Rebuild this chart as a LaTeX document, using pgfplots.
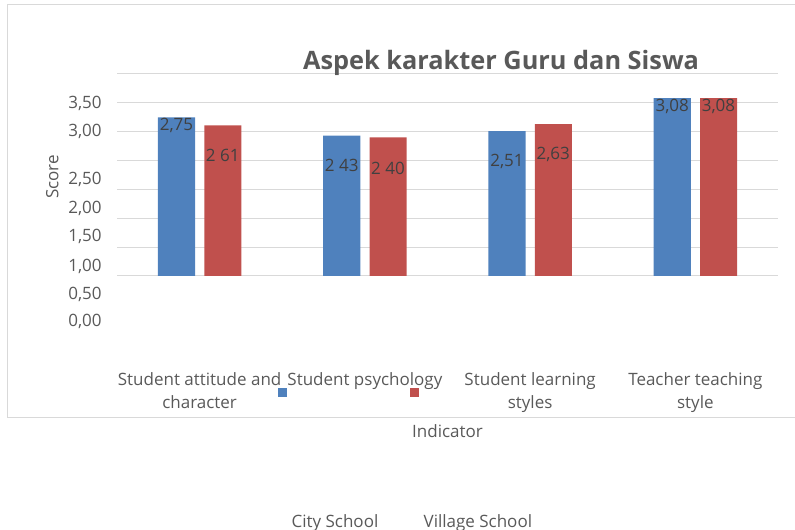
\documentclass[border=0pt]{standalone}
\usepackage{pgfplots}
\pgfplotsset{compat=1.18}
\usepackage{fontspec}
\setmainfont{Open Sans}
\definecolor{cblue}{HTML}{4F81BD}
\definecolor{cred}{HTML}{C0504D}
\definecolor{gridc}{HTML}{D9D9D9}
\definecolor{txt}{HTML}{595959}
\definecolor{lbl}{HTML}{404040}
\newcommand{\fs}{\fontsize{12.75pt}{17.3pt}\selectfont}
\pgfplotsset{mylegend/.style={legend image code/.code={%
  \path[fill=none, draw=none] (0pt,-3pt) rectangle (8pt,3pt);
  \fill[##1, overlay] (0pt,93.5pt) rectangle ++(6.75pt,6.75pt);}}}
\begin{document}
\begin{tikzpicture}
\path[use as bounding box] (0,0) rectangle (596.25pt,397.5pt);
\draw[gridc, line width=0.75pt] (5.25pt,393.75pt) rectangle (620pt,84pt);
\begin{axis}[
  at={(87.75pt,151.6pt)}, anchor=south west,
  scale only axis, width=495.75pt, height=190.4pt,
  xmin=-0.5, xmax=3.5, ymin=-0.9, ymax=3.5,
  axis line style={draw=none},
  major tick length=0pt,
  ytick={0,0.5,...,3.5}, yticklabels={},
  ymajorgrids, grid style={gridc, line width=0.75pt},
  extra y ticks={2.998,2.513,1.664,1.178,0.676,0.173,-0.329,-0.78},
  extra y tick labels={{3,50},{3,00},{2,50},{2,00},{1,50},{1,00},{0,50},{0,00}},
  extra y tick style={grid=none},
  yticklabel style={font=\fs, text=txt, xshift=-8pt},
  xtick={0,1,2,3},
  xticklabels={{Student attitude and\\character},{Student psychology},{Student learning\\styles},{Teacher teaching\\style}},
  xticklabel style={font=\fs, text=txt, align=center, yshift=-30pt},
  title={Aspek karakter Guru dan Siswa},
  title style={font=\fontsize{19pt}{22pt}\selectfont\bfseries, text=txt, at={(axis description cs:0.581,0.988)}, anchor=base, yshift=0pt},
  xlabel={Indicator},
  xlabel style={font=\fs, text=txt, at={(axis description cs:0.5,-0.4336)}, anchor=base},
  ylabel={Score},
  ylabel style={font=\fs, text=txt, at={(axis description cs:-0.098,0.594)}, anchor=center},
  legend style={draw=none, fill=none, font=\fs, text=txt, at={(axis description cs:0.438,-0.765)}, anchor=center,
    /tikz/every even column/.append style={column sep=22pt}},
  legend columns=2,
  legend cell align=left,
]
\addplot[ybar, bar width=0.224, bar shift=-0.14, fill=cblue, draw=none, mylegend]
  coordinates {(0,2.75) (1,2.43) (2,2.51) (3,3.08)};
\addlegendentry{City School}
\addplot[ybar, bar width=0.224, bar shift=0.14, fill=cred, draw=none, mylegend]
  coordinates {(0,2.61) (1,2.40) (2,2.63) (3,3.08)};
\addlegendentry{Village School}
\addplot[forget plot, draw=none, mark=none, nodes near coords, point meta=explicit symbolic,
  nodes near coords style={anchor=center, font=\fs, text=lbl, inner sep=0pt}]
  table[meta=lab] {
x y lab
-0.14 2.60 {2,75}
0.14 2.08 {2 61}
0.86 1.91 {2 43}
1.14 1.87 {2 40}
1.86 1.98 {2,51}
2.14 2.11 {2,63}
2.86 2.93 {3,08}
3.14 2.93 {3,08}
};
\end{axis}
\end{tikzpicture}
\end{document}
